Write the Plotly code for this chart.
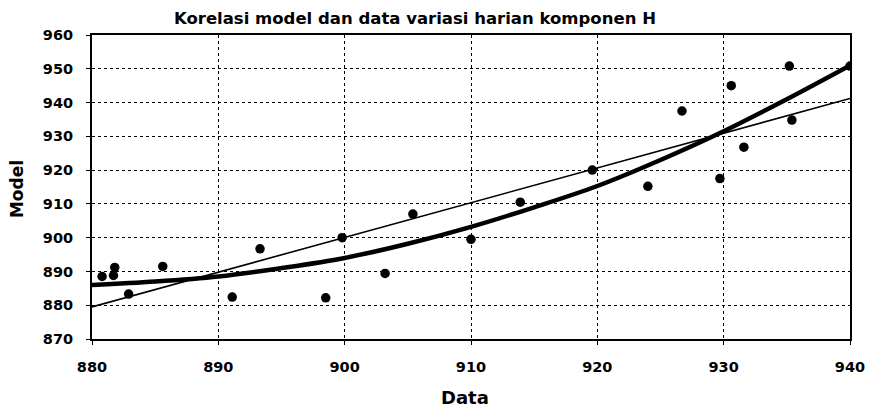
import plotly.graph_objects as go

# Scatter data
data_x = [880.8, 881.7, 881.8, 882.9, 885.6, 891.1, 893.3, 898.5, 899.8, 903.2,
          905.4, 910.0, 913.9, 919.6, 924.0, 926.7, 929.7, 930.6, 931.6, 935.2,
          935.4, 940.0]
model_y = [888.5, 888.8, 891.2, 883.3, 891.5, 882.4, 896.7, 882.2, 900.0, 889.4,
           907.0, 899.5, 910.5, 920.0, 915.2, 937.5, 917.5, 945.0, 926.8, 950.8,
           934.8, 950.8]

# Linear trend line (read at ends)
lin_x = [880, 940]
lin_y = [879.5, 941.2]

# Polynomial trend line (read every 5 units)
poly_x = [880, 885, 890, 895, 900, 905, 910, 915, 920, 925, 930, 935, 940]
poly_y = [886.0, 887.0, 888.5, 891.0, 894.0, 898.2, 903.2, 909.0, 915.3, 923.0, 931.5, 941.0, 951.0]

x_ticks = [880, 890, 900, 910, 920, 930, 940]
y_ticks = [870, 880, 890, 900, 910, 920, 930, 940, 950, 960]

fig = go.Figure()
fig.add_trace(go.Scatter(x=lin_x, y=lin_y, mode="lines",
                         line=dict(color="black", width=1.6), showlegend=False))
fig.add_trace(go.Scatter(x=poly_x, y=poly_y, mode="lines", line_shape="spline",
                         line=dict(color="black", width=4.5), showlegend=False))
fig.add_trace(go.Scatter(x=data_x, y=model_y, mode="markers",
                         marker=dict(color="black", size=9.5), showlegend=False))

font_family = "DejaVu Sans, Liberation Sans, sans-serif"
fig.update_layout(
    width=877, height=411,
    margin=dict(l=84, r=35, t=27, b=80),
    paper_bgcolor="white", plot_bgcolor="white",
    font=dict(family=font_family, color="black"),
    title=dict(text="Korelasi model dan data variasi harian komponen H",
               x=0.464, xanchor="center", y=0.975, yanchor="middle",
               font=dict(size=16.5, weight="bold", family=font_family, color="black")),
    annotations=[
        dict(text="Data", xref="paper", yref="paper", x=0.492, y=-0.192,
             xanchor="center", yanchor="middle", showarrow=False,
             font=dict(size=18, weight="bold", family=font_family, color="black")),
        dict(text="Model", xref="paper", yref="paper", x=-0.099, y=0.493,
             xanchor="center", yanchor="middle", showarrow=False, textangle=-90,
             font=dict(size=17, weight="bold", family=font_family, color="black")),
    ],
)
fig.update_xaxes(
    range=[880, 940], tickvals=x_ticks, ticktext=[str(v) for v in x_ticks],
    showgrid=True, gridcolor="black", griddash="dot", gridwidth=1,
    showline=True, linecolor="black", linewidth=2, mirror=True,
    ticks="outside", ticklen=4, tickcolor="black", ticklabelstandoff=10,
    tickfont=dict(size=14.5, weight="bold", family=font_family),
    automargin=False, zeroline=False,
)
fig.update_yaxes(
    range=[870, 960], tickvals=y_ticks, ticktext=[str(v) for v in y_ticks],
    showgrid=True, gridcolor="black", griddash="dot", gridwidth=1,
    showline=True, linecolor="black", linewidth=2, mirror=True,
    ticks="outside", ticklen=4, tickcolor="black", ticklabelstandoff=10,
    tickfont=dict(size=14.5, weight="bold", family=font_family),
    automargin=False, zeroline=False,
)
fig.write_html("out.html")
